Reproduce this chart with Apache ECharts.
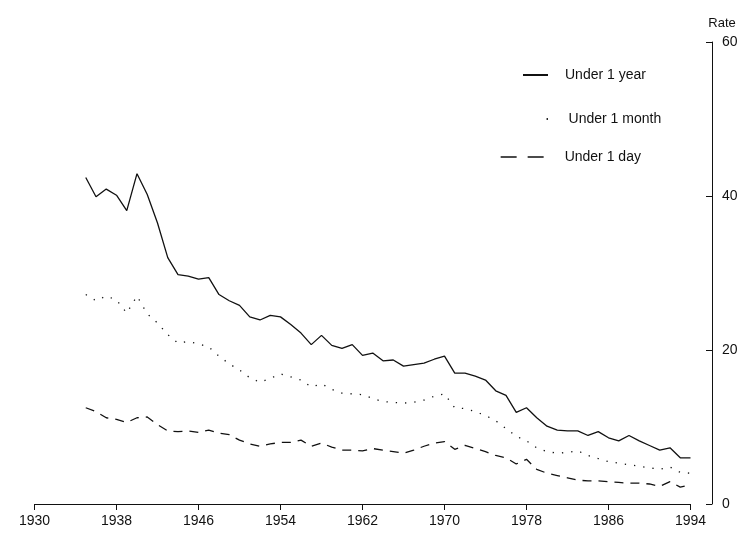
<!DOCTYPE html>
<html>
<head>
<meta charset="utf-8">
<script src="https://cdn.jsdelivr.net/npm/echarts/dist/echarts.min.js"></script>
<style>
html,body{margin:0;padding:0;background:#fff;}
#chart{width:752px;height:545px;}
</style>
</head>
<body>
<div id="chart"></div>
<script>
const years = [1935,1936,1937,1938,1939,1940,1941,1942,1943,1944,1945,1946,1947,1948,1949,
  1950,1951,1952,1953,1954,1955,1956,1957,1958,1959,1960,1961,1962,1963,1964,1965,1966,1967,1968,1969,
  1970,1971,1972,1973,1974,1975,1976,1977,1978,1979,1980,1981,1982,1983,1984,1985,1986,1987,1988,1989,
  1990,1991,1992,1993,1994];

const under1Year = [42.4,39.9,40.9,40.1,38.1,42.9,40.2,36.5,32.0,29.8,29.6,29.2,29.4,27.2,26.4,
  25.8,24.3,23.9,24.5,24.3,23.3,22.2,20.7,21.9,20.6,20.2,20.7,19.3,19.6,18.6,18.7,17.9,18.1,18.3,18.8,
  19.2,17.0,17.0,16.6,16.1,14.7,14.1,11.9,12.5,11.2,10.1,9.6,9.5,9.5,8.9,9.4,8.6,8.2,8.9,8.2,
  7.6,7.0,7.3,6.0,6.0];

const under1Month = [27.2,26.4,27.0,26.5,24.8,27.0,24.7,23.5,22.0,20.9,21.1,20.8,20.4,19.2,18.2,
  17.4,16.4,15.8,16.3,16.9,16.5,16.1,15.2,15.6,14.9,14.4,14.3,14.2,13.7,13.3,13.2,13.1,13.2,13.5,14.0,
  14.3,12.5,12.4,12.0,11.5,10.8,9.8,8.8,8.2,7.3,6.8,6.6,6.7,6.9,6.3,5.9,5.5,5.3,5.1,4.9,
  4.7,4.5,4.8,4.1,4.0];

const under1Day = [12.5,12.0,11.2,11.0,10.6,11.2,11.3,10.3,9.5,9.4,9.5,9.3,9.6,9.2,9.0,
  8.3,7.8,7.5,7.8,8.0,8.0,8.3,7.5,7.9,7.4,7.0,7.0,6.9,7.2,7.0,6.8,6.6,7.0,7.5,7.9,
  8.1,7.1,7.6,7.2,6.8,6.3,6.0,5.2,5.8,4.5,4.0,3.7,3.4,3.1,3.0,3.0,2.9,2.8,2.7,2.7,
  2.6,2.3,2.9,2.2,2.5];

const seriesNames = ['Under 1 year', 'Under 1 month', 'Under 1 day'];
const xTicks = [1930, 1938, 1946, 1954, 1962, 1970, 1978, 1986, 1994];
const yTicks = [0, 20, 40, 60];

const FONT = '"Liberation Sans", Arial, Helvetica, sans-serif';
const INK = '#111';

function pairs(vals){ return years.map((y,i)=>[y, vals[i]]); }

const chart = echarts.init(document.getElementById('chart'), null, {renderer:'canvas'});
const legendBase = {
  orient:'vertical', padding:0, selectedMode:false,
  itemHeight:14,
  itemStyle:{opacity:0, borderWidth:0},
  textStyle:{fontFamily:FONT, fontSize:14, color:INK}
};
chart.setOption({
  animation:false,
  backgroundColor:'#fff',
  grid:{left:34.5, right:61.5, top:42, bottom:41, containLabel:false},
  legend:[
    Object.assign({}, legendBase, {data:[seriesNames[0]], left:522, top:68, itemWidth:25,
      textStyle:{fontFamily:FONT, fontSize:14, color:INK, padding:[0,0,0,12]}}),
    Object.assign({}, legendBase, {data:[seriesNames[1]], left:542, top:112, itemWidth:2,
      textStyle:{fontFamily:FONT, fontSize:14, color:INK, padding:[0,0,0,15]}}),
    Object.assign({}, legendBase, {data:[seriesNames[2]], left:500, top:150, itemWidth:47,
      lineStyle:{type:[16,11], width:1.3},
      textStyle:{fontFamily:FONT, fontSize:14, color:INK, padding:[0,0,0,12]}})
  ],
  xAxis:{
    type:'value', min:xTicks[0], max:xTicks[xTicks.length-1], interval:8,
    axisLine:{show:true, onZero:false, lineStyle:{color:INK, width:1}},
    axisTick:{show:true, length:6, lineStyle:{color:INK}},
    axisLabel:{fontFamily:FONT, fontSize:14, color:INK, margin:10,
      formatter:v=>String(v)},
    splitLine:{show:false}
  },
  yAxis:{
    type:'value', position:'right', offset:21.5,
    min:yTicks[0], max:yTicks[yTicks.length-1], interval:20,
    name:'Rate', nameLocation:'end', nameGap:12,
    nameTextStyle:{fontFamily:FONT, fontSize:13, color:INK, padding:[0,0,0,20]},
    axisLine:{show:true, lineStyle:{color:INK, width:1}},
    axisTick:{show:true, inside:true, length:6, lineStyle:{color:INK}},
    axisLabel:{fontFamily:FONT, fontSize:14, color:INK, margin:10},
    splitLine:{show:false}
  },
  series:[
    {name:seriesNames[0], type:'line', data:pairs(under1Year), symbol:'none', showSymbol:false,
      lineStyle:{color:INK, width:1.3, type:'solid'}, itemStyle:{color:INK}},
    {name:seriesNames[1], type:'line', data:pairs(under1Month), symbol:'none', showSymbol:false,
      lineStyle:{color:INK, width:1.3, type:[1.3,8]}, itemStyle:{color:INK}},
    {name:seriesNames[2], type:'line', data:pairs(under1Day), symbol:'none', showSymbol:false,
      lineStyle:{color:INK, width:1.3, type:[9,7]}, itemStyle:{color:INK}}
  ]
});
</script>
</body>
</html>
